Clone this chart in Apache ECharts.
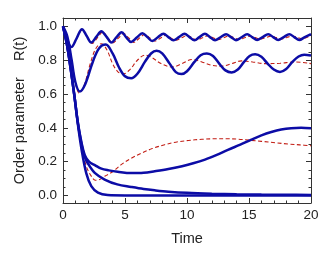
<!DOCTYPE html>
<html><head><meta charset="utf-8">
<script src="https://cdn.jsdelivr.net/npm/echarts@6/dist/echarts.min.js"></script>
<style>html,body{margin:0;padding:0;background:#fff}#c{width:332px;height:270px}</style>
</head><body><div id="c"></div>
<script>
// Blue solid curves [time, R]
const blueTop = [[0,1.0],[0.35,0.92],[0.67,0.878],[1.1,0.93],[1.53,0.984],[1.9,0.945],[2.28,0.905],[2.7,0.94],[3.09,0.972],[3.5,0.94],[3.9,0.905],[4.3,0.935],[4.73,0.965],[5.1,0.936],[5.5,0.908],[5.95,0.934],[6.4,0.96],[6.8,0.937],[7.2,0.914],[7.65,0.936],[8.1,0.957],[8.5,0.937],[8.9,0.918],[9.35,0.937],[9.8,0.957],[10.2,0.937],[10.6,0.918],[11.0,0.937],[11.45,0.957],[11.85,0.937],[12.26,0.918],[12.7,0.936],[13.15,0.954],[13.55,0.937],[13.95,0.919],[14.4,0.936],[14.85,0.954],[15.25,0.937],[15.65,0.92],[16.1,0.937],[16.55,0.954],[16.95,0.937],[17.35,0.92],[17.8,0.937],[18.25,0.954],[18.65,0.937],[19.05,0.92],[19.5,0.937],[20,0.954]];
const blueMid = [[0,1.0],[0.35,0.94],[0.7,0.8],[1.0,0.67],[1.35,0.615],[1.8,0.66],[2.4,0.79],[2.9,0.87],[3.45,0.893],[4.0,0.84],[4.5,0.76],[5.0,0.705],[5.5,0.693],[6.0,0.72],[6.6,0.79],[7.1,0.84],[7.55,0.856],[8.0,0.84],[8.6,0.78],[9.1,0.73],[9.55,0.718],[10.0,0.735],[10.6,0.79],[11.1,0.83],[11.6,0.84],[12.1,0.825],[12.6,0.78],[13.1,0.74],[13.6,0.728],[14.1,0.745],[14.6,0.79],[15.05,0.825],[15.5,0.835],[16.0,0.82],[16.5,0.78],[17.0,0.745],[17.5,0.731],[18.0,0.748],[18.5,0.79],[19.0,0.822],[19.45,0.833],[20,0.828]];
const blueLow1 = [[0,1.0],[0.3,0.9],[0.6,0.76],[0.9,0.6],[1.2,0.43],[1.5,0.31],[1.75,0.24],[2.1,0.2],[2.6,0.178],[3.1,0.158],[3.7,0.148],[4.4,0.14],[5.5,0.132],[6.5,0.134],[7.4,0.143],[8.5,0.156],[9.6,0.173],[10.5,0.19],[11.45,0.212],[12.4,0.24],[13.3,0.27],[14.3,0.3],[15.2,0.33],[16.0,0.355],[16.8,0.375],[17.6,0.39],[18.4,0.398],[19.2,0.4],[20,0.397]];
const blueLow2 = [[0,1.0],[0.3,0.9],[0.6,0.76],[0.9,0.6],[1.2,0.43],[1.5,0.3],[1.75,0.23],[2.0,0.19],[2.56,0.133],[3.36,0.094],[4.38,0.065],[5.5,0.05],[6.5,0.038],[7.4,0.03],[8.5,0.022],[10,0.015],[12,0.01],[14,0.007],[16,0.005],[18,0.004],[20,0.003]];
const blueLow3 = [[0,1.0],[0.3,0.9],[0.6,0.76],[0.9,0.6],[1.2,0.42],[1.5,0.27],[1.88,0.13],[2.28,0.055],[2.82,0.016],[3.6,0.002],[5,0],[10,0],[20,0]];
// Red dashed curves
const redTop = [[0,1.0],[0.35,0.92],[0.67,0.878],[1.1,0.93],[1.55,0.98],[1.95,0.94],[2.35,0.9],[2.8,0.935],[3.2,0.967],[3.6,0.935],[4.0,0.902],[4.45,0.93],[4.9,0.958],[5.3,0.932],[5.7,0.906],[6.15,0.93],[6.6,0.953],[7.0,0.932],[7.4,0.914],[7.85,0.93],[8.3,0.948],[8.7,0.932],[9.1,0.918],[9.55,0.932],[10.0,0.946],[10.4,0.933],[10.8,0.92],[11.25,0.933],[11.7,0.945],[12.1,0.933],[12.5,0.922],[12.95,0.933],[13.4,0.944],[13.8,0.933],[14.2,0.923],[14.65,0.933],[15.1,0.943],[15.5,0.934],[15.9,0.925],[16.35,0.934],[16.8,0.943],[17.2,0.934],[17.6,0.926],[18.05,0.935],[18.5,0.943],[18.9,0.935],[19.3,0.927],[19.75,0.937],[20,0.943]];
const redMid = [[0,1.0],[0.35,0.94],[0.7,0.8],[1.0,0.67],[1.3,0.605],[1.7,0.65],[2.2,0.78],[2.65,0.87],[3.1,0.898],[3.55,0.86],[4.0,0.78],[4.45,0.73],[4.9,0.72],[5.4,0.745],[6.0,0.8],[6.6,0.83],[7.2,0.815],[7.9,0.78],[8.8,0.76],[9.6,0.78],[10.4,0.804],[11.2,0.79],[12.0,0.77],[12.8,0.765],[13.6,0.78],[14.4,0.796],[15.3,0.79],[16.3,0.78],[17.5,0.782],[18.7,0.79],[20,0.78]];
const redLow = [[0,1.0],[0.3,0.9],[0.6,0.76],[0.9,0.6],[1.2,0.43],[1.5,0.3],[1.88,0.172],[2.28,0.114],[2.6,0.09],[2.9,0.092],[3.4,0.115],[4.0,0.14],[4.7,0.182],[5.5,0.22],[6.35,0.251],[7.2,0.277],[8.2,0.3],[9.1,0.315],[10.1,0.325],[11.2,0.332],[12.26,0.335],[13.2,0.335],[14.1,0.333],[15.0,0.327],[16.0,0.32],[17.1,0.312],[18.2,0.304],[19.1,0.299],[20,0.294]];

const xTitle = 'Time';
const yTitle = 'Order parameter    R(t)';

const FONT = 'Liberation Sans';
const TXT = '#222';
const BLUE = '#0c0ca6';
const RED = '#c21d14';

const chart = echarts.init(document.getElementById('c'), null, {renderer: 'canvas'});
const axisCommon = {
  axisLine: {show: true, onZero: false, lineStyle: {color: '#333', width: 1}},
  axisTick: {show: true, inside: true, length: 5, lineStyle: {color: '#333'}},
  minorTick: {show: true, length: 2.5, lineStyle: {color: '#333'}},
  splitLine: {show: false}
};
const xBase = Object.assign({type: 'value', min: 0, max: 20, interval: 5}, axisCommon);
xBase.minorTick = Object.assign({}, axisCommon.minorTick, {splitNumber: 5});
const yBase = Object.assign({type: 'value', min: -0.045, max: 1.05, minInterval: 0.2, maxInterval: 0.2}, axisCommon);
yBase.minorTick = Object.assign({}, axisCommon.minorTick, {splitNumber: 4});

function line(data, color, width, dashed) {
  return {type: 'line', data: data, xAxisIndex: 0, yAxisIndex: 0, showSymbol: false, symbol: 'none',
    smooth: 0.35, silent: true,
    lineStyle: {color: color, width: width, type: dashed ? [4, 2.5] : 'solid'}};
}

chart.setOption({
  animation: false,
  backgroundColor: '#fff',
  grid: {left: 63, right: 21, top: 18, bottom: 67},
  xAxis: [
    Object.assign({}, xBase, {position: 'bottom', name: xTitle, nameLocation: 'middle', nameGap: 28,
      nameTextStyle: {fontFamily: FONT, fontSize: 14.5, color: TXT},
      axisLabel: {fontFamily: FONT, fontSize: 13.5, color: TXT, margin: 5}}),
    Object.assign({}, xBase, {position: 'top', axisLabel: {show: false}})
  ],
  yAxis: [
    Object.assign({}, yBase, {position: 'left', name: yTitle, nameLocation: 'middle', nameGap: 32,
      nameTextStyle: {fontFamily: FONT, fontSize: 14.5, color: TXT},
      axisLabel: {fontFamily: FONT, fontSize: 13.5, color: TXT, margin: 6, showMinLabel: false, showMaxLabel: false,
        formatter: v => (Math.abs(v) < 1e-9 ? 0 : v).toFixed(1)}}),
    Object.assign({}, yBase, {position: 'right', axisLabel: {show: false}})
  ],
  series: [
    line(redTop, RED, 1.1, true),
    line(redMid, RED, 1.1, true),
    line(redLow, RED, 1.1, true),
    line(blueTop, BLUE, 2.5, false),
    line(blueMid, BLUE, 2.5, false),
    line(blueLow1, BLUE, 2.5, false),
    line(blueLow2, BLUE, 2.5, false),
    line(blueLow3, BLUE, 2.5, false)
  ]
});
</script></body></html>
